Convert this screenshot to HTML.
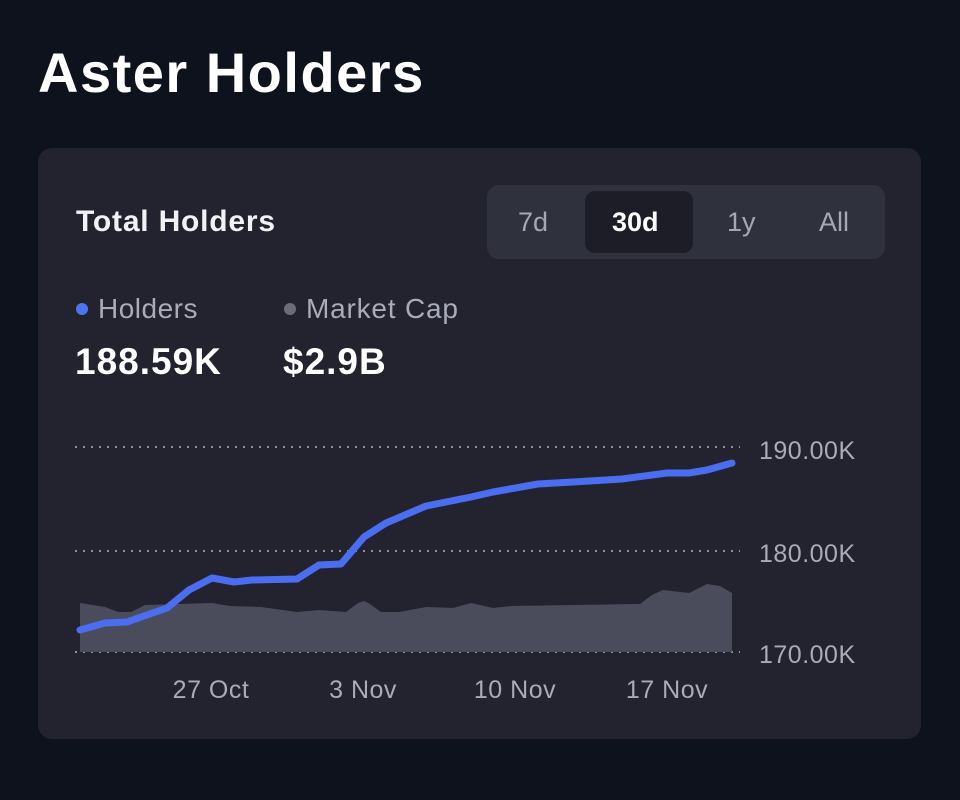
<!DOCTYPE html>
<html><head><style>
body{margin:0;width:960px;height:800px;background:#0e121c;font-family:"Liberation Sans",sans-serif;position:relative;overflow:hidden}
.a{position:absolute;white-space:nowrap}
</style></head><body>
<div class="a" style="left:38px;top:40px;font-size:56px;font-weight:bold;color:#fff;letter-spacing:1.5px">Aster Holders</div>
<div class="a" style="left:38px;top:148px;width:883px;height:591px;background:#22232f;border-radius:14px"></div>
<div class="a" style="left:76px;top:205px;font-size:30px;font-weight:bold;color:#f2f2f4;letter-spacing:0.8px">Total Holders</div>
<div class="a" style="left:487px;top:185px;width:398px;height:74px;background:#2f313d;border-radius:12px"></div>
<div class="a" style="left:585px;top:191px;width:108px;height:62px;background:#1c1d26;border-radius:10px"></div>
<div class="a" style="left:518px;top:207px;font-size:27px;color:#a6a8b4">7d</div>
<div class="a" style="left:612px;top:207px;font-size:27px;font-weight:bold;color:#fff">30d</div>
<div class="a" style="left:727px;top:207px;font-size:27px;color:#a6a8b4">1y</div>
<div class="a" style="left:819px;top:207px;font-size:27px;color:#a6a8b4">All</div>
<div class="a" style="left:76px;top:303px;width:12px;height:12px;border-radius:50%;background:#4d74f0"></div>
<div class="a" style="left:98px;top:293px;font-size:28px;color:#a9abb8;letter-spacing:0.5px">Holders</div>
<div class="a" style="left:284px;top:303px;width:12px;height:12px;border-radius:50%;background:#6a6c7a"></div>
<div class="a" style="left:306px;top:293px;font-size:28px;color:#a9abb8;letter-spacing:0.8px">Market Cap</div>
<div class="a" style="left:75px;top:341px;font-size:37px;font-weight:bold;color:#fff;letter-spacing:1px">188.59K</div>
<div class="a" style="left:283px;top:341px;font-size:37px;font-weight:bold;color:#fff;letter-spacing:1px">$2.9B</div>
<svg class="a" style="left:0;top:0" width="960" height="800">
<g stroke="#8d8f9c" stroke-width="2" stroke-dasharray="2 6">
<line x1="75" y1="447" x2="740" y2="447"/><line x1="75" y1="551" x2="740" y2="551"/><line x1="75" y1="652" x2="740" y2="652"/>
</g>
<path fill="#4a4c5c" d="M80,603 L105,607 L118,612 L131,612 L145,605 L212,603 L230,606 L261,607 L297,612 L319,610 L346,612 L358,603 L364,601 L370,604 L381,612 L399,612 L426,607 L453,608 L471,603 L493,608 L511,606 L640,604 L652,595 L663,590 L689,593 L707,584 L720,586 L732,593 L732,652 L80,652 Z"/>
<polyline fill="none" stroke="#4b6ef0" stroke-width="7" stroke-linejoin="round" stroke-linecap="round" points="80,630 105,623 127,622 167,608 189,590 212,578 234,582 252,580 297,579 319,565 341,564 364,537 386,523 426,506 471,497 493,492 538,484 573,482 622,479 667,473 689,473 707,470 732,463"/>
<g fill="#a9abb8" font-size="25" font-family="Liberation Sans,sans-serif" letter-spacing="0.5">
<text x="759" y="459">190.00K</text><text x="759" y="562">180.00K</text><text x="759" y="663">170.00K</text>
<text x="211" y="698" text-anchor="middle">27 Oct</text><text x="363" y="698" text-anchor="middle">3 Nov</text><text x="515" y="698" text-anchor="middle">10 Nov</text><text x="667" y="698" text-anchor="middle">17 Nov</text>
</g>
</svg>
</body></html>
